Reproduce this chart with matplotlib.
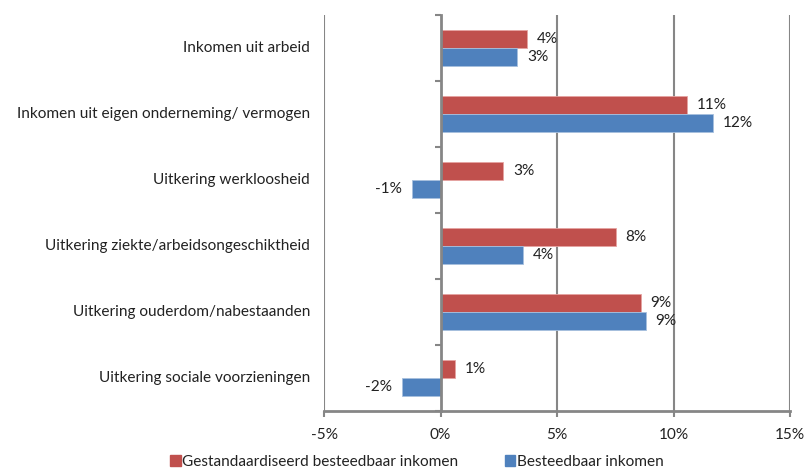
import numpy as np
import matplotlib.pyplot as plt
from matplotlib.patches import Patch
from matplotlib.transforms import blended_transform_factory

categories = [
    "Inkomen uit arbeid",
    "Inkomen uit eigen onderneming/ vermogen",
    "Uitkering werkloosheid",
    "Uitkering ziekte/arbeidsongeschiktheid",
    "Uitkering ouderdom/nabestaanden",
    "Uitkering sociale voorzieningen",
]
gestandaardiseerd = [3.73, 10.6, 2.7, 7.52, 8.6, 0.64]
besteedbaar = [3.3, 11.7, -1.24, 3.56, 8.8, -1.67]
series_names = ["Gestandaardiseerd besteedbaar inkomen", "Besteedbaar inkomen"]
xticks = [-5, 0, 5, 10, 15]

RED = "#C0504D"
BLUE = "#4F81BD"
GRID = "#868686"
FS = 11.1

plt.rcParams['font.family'] = ['Lato', 'DejaVu Sans']

fig = plt.figure(figsize=(8.06, 4.72), dpi=100)
ax = fig.add_axes([324 / 806, 1 - 411 / 472, 466 / 806, 396 / 472])

y = np.arange(len(categories))
h = 0.28
ax.barh(y - h / 2, gestandaardiseerd, height=h, color=RED,
        edgecolor="#E6A3A1", linewidth=0.6, zorder=3)
ax.barh(y + h / 2, besteedbaar, height=h, color=BLUE,
        edgecolor="#A7C0DE", linewidth=0.6, zorder=3)

# data labels
for yy, vals in ((y - h / 2, gestandaardiseerd), (y + h / 2, besteedbaar)):
    for yi, v in zip(yy, vals):
        lab = "{:.0f}%".format(v)
        if v >= 0:
            ax.annotate(lab, (v, yi), xytext=(7, 0), textcoords="offset points",
                        ha="left", va="center", fontsize=FS, color="#222222")
        else:
            ax.annotate(lab, (v, yi), xytext=(-7, 0), textcoords="offset points",
                        ha="right", va="center", fontsize=FS, color="#222222")

ax.set_xlim(-5, 15)
ax.set_ylim(len(categories) - 0.5, -0.5)
ax.set_xticks(xticks)
ax.set_xticklabels(["{}%".format(t) for t in xticks], fontsize=FS, color="#222222")
ax.tick_params(axis="x", length=4, width=1.5, color=GRID, pad=8)

# zero axis with category boundary ticks
ax.spines['left'].set_position(('data', 0))
ax.spines['left'].set_color(GRID)
ax.spines['left'].set_linewidth(2)
ax.spines['left'].set_zorder(4)
ax.set_yticks(np.arange(-0.5, len(categories), 1.0))
ax.set_yticklabels([])
ax.tick_params(axis="y", length=4, width=1.5, color=GRID, direction="out")

ax.spines['top'].set_visible(False)
ax.spines['right'].set_visible(False)
ax.spines['bottom'].set_color(GRID)
ax.spines['bottom'].set_linewidth(2)

for t in xticks:
    if t != 0:
        ax.axvline(t, color=GRID, linewidth=1.5, zorder=1)

trans = blended_transform_factory(ax.transAxes, ax.transData)
for yi, cat in zip(y, categories):
    ax.text(-14 / 466, yi, cat, transform=trans, ha="right", va="center",
            fontsize=FS, color="#222222")

handles = [Patch(color=RED), Patch(color=BLUE)]
fig.legend(handles, series_names, loc="lower center", bbox_to_anchor=(0.517, -0.022),
           ncol=2, frameon=False, fontsize=FS, handlelength=0.7, handleheight=0.7,
           handletextpad=0.1, columnspacing=3.0, labelcolor="#222222")

fig.savefig("out.png", dpi=100)
